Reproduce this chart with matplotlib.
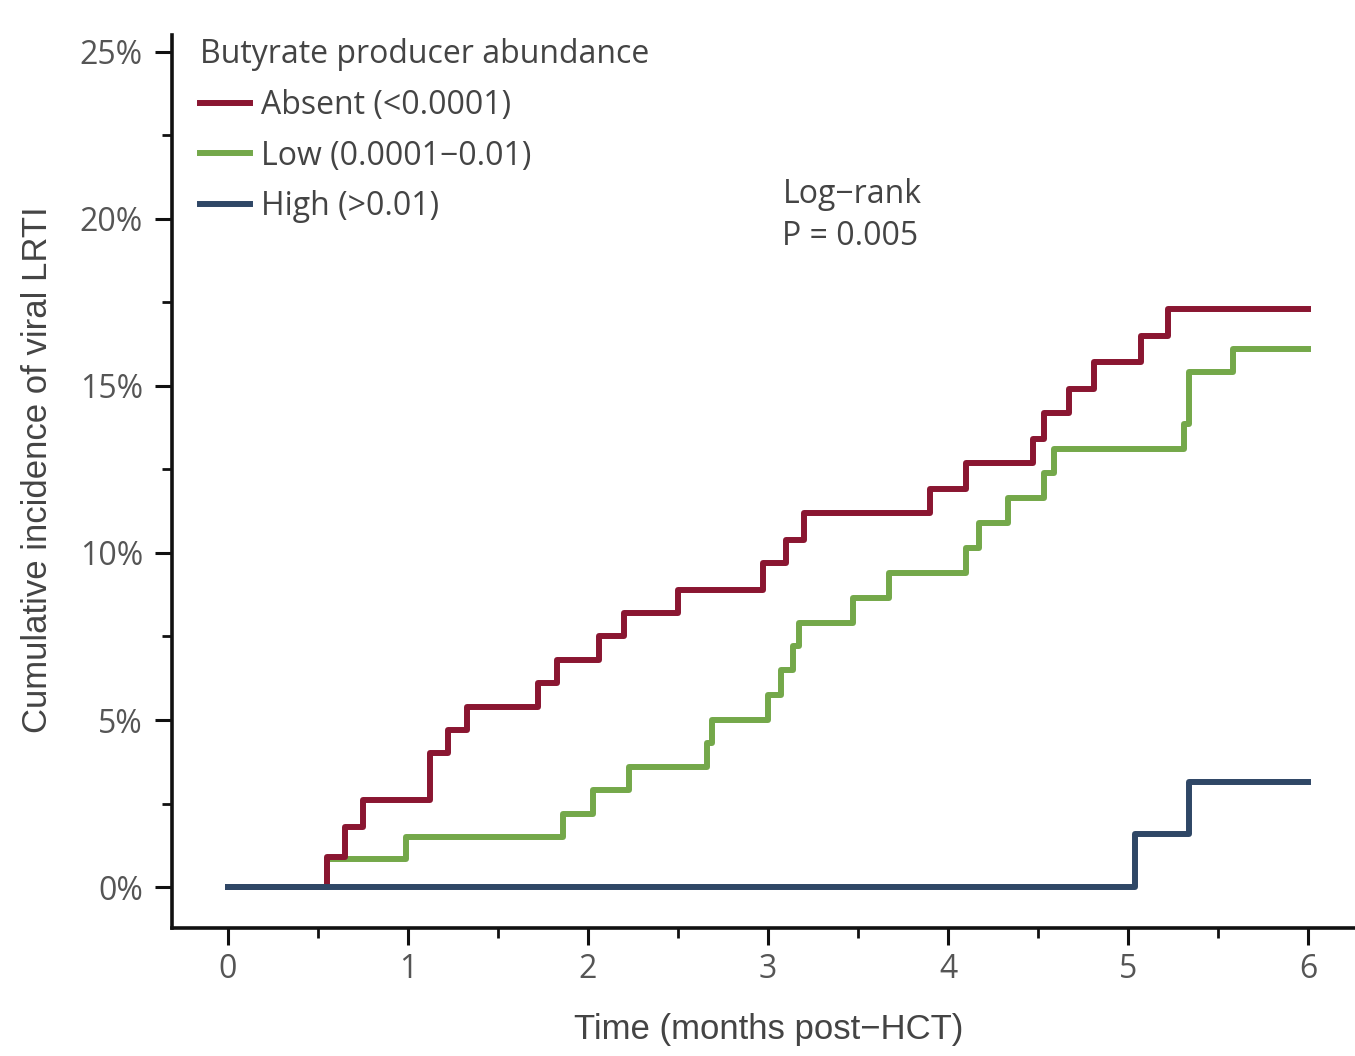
import matplotlib
matplotlib.use("Agg")
import matplotlib.pyplot as plt
from matplotlib.ticker import MultipleLocator, FuncFormatter

# ---- data (months post-HCT, cumulative incidence in %) ----
absent_t = [0, 0.55, 0.65, 0.75, 1.12, 1.22, 1.33, 1.72, 1.83, 2.06, 2.20, 2.50,
            2.97, 3.10, 3.20, 3.90, 4.10, 4.47, 4.53, 4.67, 4.81, 5.07, 5.22, 6.0]
absent_y = [0, 0.9, 1.8, 2.6, 4.0, 4.7, 5.4, 6.1, 6.8, 7.5, 8.2, 8.9,
            9.7, 10.4, 11.2, 11.9, 12.7, 13.4, 14.2, 14.9, 15.7, 16.5, 17.3, 17.3]

low_t = [0, 0.55, 0.99, 1.86, 2.03, 2.23, 2.66, 2.69, 3.00, 3.07, 3.14, 3.17,
         3.47, 3.67, 4.10, 4.17, 4.33, 4.53, 4.59, 5.31, 5.34, 5.58, 6.0]
low_y = [0, 0.85, 1.5, 2.2, 2.9, 3.6, 4.3, 5.0, 5.75, 6.5, 7.2, 7.9,
         8.65, 9.4, 10.15, 10.9, 11.65, 12.4, 13.1, 13.85, 15.4, 16.1, 16.1]

high_t = [0, 5.04, 5.34, 6.0]
high_y = [0, 1.6, 3.15, 3.15]

labels = ["Absent (<0.0001)", "Low (0.0001\u22120.01)", "High (>0.01)"]
legend_title = "Butyrate producer abundance"
colors = ["#8a1631", "#74a84a", "#2f4766"]

plt.rcParams['font.family'] = ['Open Sans', 'DejaVu Sans']

fig = plt.figure(figsize=(13.55, 10.56), dpi=100)
ax = fig.add_axes([0.127, 0.121, 0.873, 0.846])

lw = 4.3
l_low, = ax.step(low_t, low_y, where='post', color=colors[1], lw=lw, zorder=3)
l_abs, = ax.step(absent_t, absent_y, where='post', color=colors[0], lw=lw, zorder=4)
l_high, = ax.step(high_t, high_y, where='post', color=colors[2], lw=lw, zorder=5)

ax.set_xlim(-0.31, 6.26)
ax.set_ylim(-1.23, 25.5)

ax.xaxis.set_major_locator(MultipleLocator(1))
ax.xaxis.set_minor_locator(MultipleLocator(0.5))
ax.yaxis.set_major_locator(MultipleLocator(5))
ax.yaxis.set_minor_locator(MultipleLocator(2.5))
ax.yaxis.set_major_formatter(FuncFormatter(lambda v, p: f"{int(round(v))}%"))

for s in ['top', 'right']:
    ax.spines[s].set_visible(False)
for s in ['left', 'bottom']:
    ax.spines[s].set_linewidth(2.6)
    ax.spines[s].set_color('#111111')

ax.tick_params(axis='both', which='major', length=12, width=2.2, color='#111111',
               labelsize=23, labelcolor='#555555')
ax.tick_params(axis='both', which='minor', length=7, width=2.0, color='#111111')
ax.tick_params(axis='y', which='major', pad=9)
ax.tick_params(axis='x', which='major', pad=6)

lab = ['Liberation Sans', 'DejaVu Sans']
ax.set_xlabel("Time (months post\u2212HCT)", fontsize=25, color='#444444', family=lab)
ax.set_ylabel("Cumulative incidence of viral LRTI", fontsize=25, color='#444444', family=lab)
ax.xaxis.set_label_coords(0.504, -0.095)
ax.yaxis.set_label_coords(-0.100, 0.513)

leg = ax.legend([l_abs, l_low, l_high], labels, title=legend_title,
                loc='upper left', bbox_to_anchor=(0.024, 0.996), frameon=False,
                fontsize=23, title_fontsize=23, alignment='left',
                handlelength=1.55, handletextpad=0.35, labelspacing=0.55,
                borderaxespad=0, borderpad=0)
for t in leg.get_texts():
    t.set_color('#444444')
leg.get_title().set_color('#444444')

ax.text(3.08, 20.1, "Log\u2212rank\nP = 0.005", fontsize=23, color='#444444',
        ha='left', va='center', linespacing=1.35)

fig.savefig("out.png", dpi=100)
